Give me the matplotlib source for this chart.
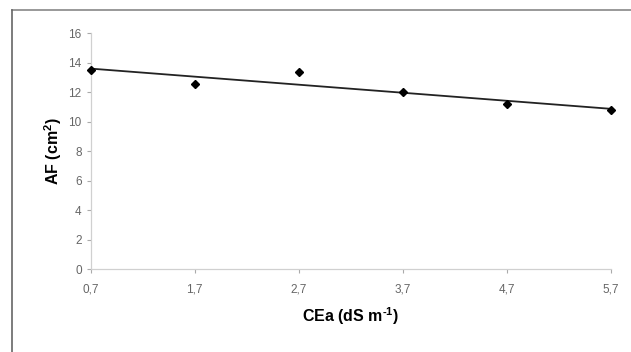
import matplotlib.pyplot as plt
from matplotlib.lines import Line2D
import numpy as np

plt.rcParams["font.family"] = ["Liberation Sans", "DejaVu Sans"]
plt.rcParams["mathtext.fontset"] = "custom"
plt.rcParams["mathtext.rm"] = "Liberation Sans:bold"
plt.rcParams["mathtext.default"] = "rm"

cea = [0.7, 1.7, 2.7, 3.7, 4.7, 5.7]
af = [13.5, 12.6, 13.4, 12.0, 11.2, 10.8]
xticks = [0.7, 1.7, 2.7, 3.7, 4.7, 5.7]
xtick_labels = ["0,7", "1,7", "2,7", "3,7", "4,7", "5,7"]
yticks = [0, 2, 4, 6, 8, 10, 12, 14, 16]

fig = plt.figure(figsize=(6.31, 3.52), dpi=100)
ax = fig.add_axes([0.1437, 0.235, 0.968 - 0.1437, 0.905 - 0.235])

# tendência linear
coef = np.polyfit(cea, af, 1)
xx = np.array([cea[0], cea[-1]])
ax.plot(xx, np.polyval(coef, xx), color="#222222", lw=1.3, zorder=2)
ax.plot(cea, af, "D", color="black", ms=4.3, zorder=3, clip_on=False)

ax.set_xlim(0.7, 5.7)
ax.set_ylim(0, 16)
ax.set_xticks(xticks)
ax.set_xticklabels(xtick_labels)
ax.set_yticks(yticks)
ax.tick_params(colors="#aaaaaa", labelcolor="#666666", labelsize=8.5, length=3, width=0.8, direction="out")
ax.tick_params(axis="x", pad=7)
for s in ["top", "right"]:
    ax.spines[s].set_visible(False)
for s in ["left", "bottom"]:
    ax.spines[s].set_color("#d0d0d0")
    ax.spines[s].set_linewidth(0.9)

ax.set_xlabel("CEa (dS m$^{\\text{-}1}$)", fontsize=11.5, fontweight="bold", labelpad=7)
ax.set_ylabel("AF (cm$^{2}$)", fontsize=11.5, fontweight="bold", labelpad=3)

# moldura externa
fig.add_artist(Line2D([0.019, 1.0], [0.972, 0.972], color="#888888", lw=1.2))
fig.add_artist(Line2D([0.019, 0.019], [0.0, 0.972], color="#666666", lw=1.2))

fig.savefig("out.png", dpi=100)
